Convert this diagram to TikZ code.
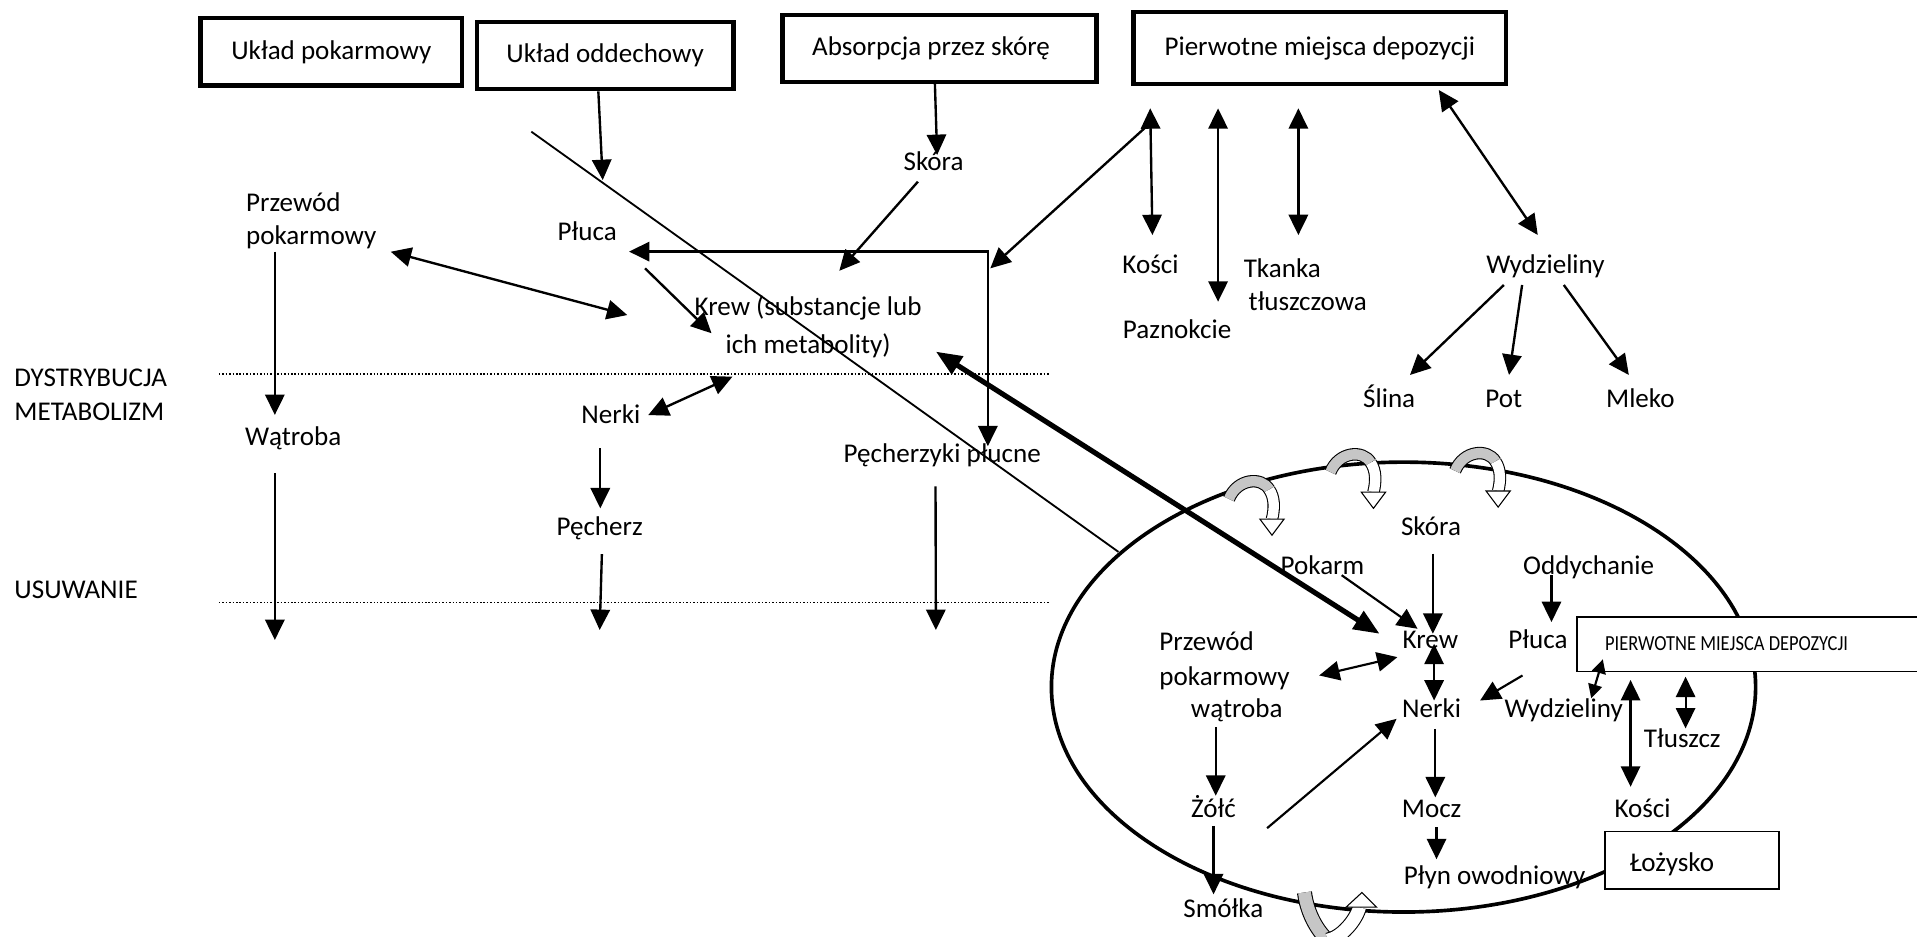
\documentclass[tikz,border=0pt]{standalone}
\usepackage{fontspec}
\setmainfont{Carlito}
\newfontfamily\waski[FakeStretch=0.86]{Carlito}
\usetikzlibrary{arrows.meta,positioning,calc}

\tikzset{
  ramka/.style={draw,line width=2pt,fill=white,inner sep=0pt,font=\fontsize{12.6}{15}\selectfont},
  cienka/.style={draw,line width=0.7pt,fill=white,inner sep=0pt},
  napis/.style={inner sep=0pt,text height=9pt,text depth=2.5pt,font=\fontsize{12.6}{15}\selectfont},
  dwa/.style={inner sep=0pt,align=left,font=\fontsize{12.6}{#1}\selectfont},
  strz/.style={line width=1.1pt,-{Triangle[length=9.5pt,width=9pt]}},
  dstrz/.style={line width=1.1pt,{Triangle[length=9.5pt,width=9pt]}-{Triangle[length=9.5pt,width=9pt]}},
  krotka/.style={line width=1pt,{Triangle[length=6.5pt,width=6.5pt]}-{Triangle[length=6.5pt,width=6.5pt]}},
  gruba/.style={line width=2.4pt,{Triangle[length=12pt,width=9.5pt]}-{Triangle[length=12pt,width=9.5pt]}},
  kropki/.style={line width=0.7pt,dash pattern=on 0.7pt off 0.9pt}
}

% curved arrow sitting on the ellipse
\newcommand{\zawrot}[2]{%
  \begin{scope}[shift={(#1,#2)},scale=1.1]
    \draw[line width=0.5pt,double=gray!45,double distance=4.8pt] (2,1) .. controls (8,-14) and (26,-16) .. (32,-6);
    \draw[line width=0.5pt,double=white,double distance=4.8pt] (32,-6) .. controls (36,0) and (36,8) .. (34,16);
    \filldraw[fill=white,line width=0.5pt] (25,16) -- (43,16) -- (34,28) -- cycle;
  \end{scope}}

\begin{document}
\begin{tikzpicture}[x=0.02cm,y=-0.02cm]
	\useasboundingbox (0,0) rectangle (1568,766);
	
	% body
	\draw[line width=1.7pt] (1148,562) ellipse [x radius=288, y radius=184];
	\foreach \x/\y in {1003/407, 1086/385, 1188/384}{
		\zawrot{\x}{\y}
	}
	\begin{scope}[shift={(1059,731)}]
		\draw[line width=0.5pt,double=gray!45,double distance=6pt] (8,-1) .. controls (10,15) and (18,30) .. (27,38);
		\draw[line width=0.5pt,double=white,double distance=6pt] (27,38) .. controls (38,36) and (50,22) .. (53,11);
		\filldraw[fill=white,line width=0.5pt] (42,11) -- (67,11) -- (55,-1) -- cycle;
	\end{scope}
	
	% top boxes
	\node[ramka,minimum width=4.28cm,minimum height=1.1cm] (uklpok) at (271,42.5) {Układ pokarmowy};
	\node[ramka,minimum width=4.2cm,minimum height=1.1cm] (ukloddech) at (495,45.5) {Układ oddechowy};
	\node[ramka,minimum width=5.14cm,minimum height=1.1cm] (absorpcja) at (768.5,39.5) {Absorpcja przez skórę\hspace*{0.28cm}};
	\node[ramka,minimum width=6.1cm,minimum height=1.18cm] (pierwotne) at (1079.5,39.5) {Pierwotne miejsca depozycji};
	
	% phases
	\node[napis,anchor=west] (dystr) at (11.5,310.8) {DYSTRYBUCJA};
	\node[napis,anchor=west] (metab) at (11.5,338.6) {METABOLIZM};
	\node[napis,anchor=west] (usuw) at (11.5,484) {USUWANIE};
	\draw[kropki] (179,305.8) -- (859,305.8);
	\draw[kropki] (179,492.7) -- (859,492.7);
	
	% upper scheme
	\node[dwa=15.1,anchor=west] (przewod) at (201,180.6) {Przewód\\pokarmowy};
	\node[napis] (watroba) at (239.8,358.5) {Wątroba};
	\node[napis] (pluca) at (480.3,190.9) {Płuca};
	\node[dwa=17.8,align=center] (krew) at (661,267.5) {Krew (substancje lub\\ich metabolity)};
	\node[napis] (skora) at (763.6,133.6) {Skóra};
	\node[napis] (nerki) at (499.6,340.3) {Nerki};
	\node[napis] (pecherz) at (490.5,432.2) {Pęcherz};
	\node[napis] (pecherzyki) at (770.7,372.2) {Pęcherzyki płucne};
	\node[napis] (kosci) at (941,218.1) {Kości};
	\node[dwa=15.5,anchor=west] (tkanka) at (1017,232.7) {Tkanka\\\hspace*{0.08cm}tłuszczowa};
	\node[napis] (paznokcie) at (962.8,271.3) {Paznokcie};
	\node[napis] (wydz) at (1264.1,218.1) {Wydzieliny};
	\node[napis] (slina) at (1136.3,327.2) {Ślina};
	\node[napis] (pot) at (1230,327.2) {Pot};
	\node[napis] (mleko) at (1341.7,327.2) {Mleko};
	
	\coordinate (rog) at (808,205.8);
	\draw[line width=0.85pt] (434.6,107.7) -- (914.8,451.4);
	\draw[strz] (ukloddech.south -| 489.4,0) -- (493,147.3);
	\draw[strz] (absorpcja.south -| 764.7,0) -- (766.5,126.8);
	\draw[strz] (750.8,148.6) -- (686.5,221.5);
	\draw[strz] (939,102.3) -- (810,219.5);
	\draw[dstrz] (514.5,205.8) -- (rog) -- (808,365);
	\draw[strz] (527.6,219.5) -- (582,272.6);
	\draw[dstrz] (319.6,205.9) -- (513.1,257.7);
	\draw[strz] (224.8,205.9) -- (224.8,339.4);
	\draw[strz] (224.8,387.2) -- (224.8,523.5);
	\draw[dstrz] (530.2,339.5) -- (599.1,308.1);
	\draw[strz] (491,366.7) -- (491,415.8);
	\draw[strz] (492.3,453.2) -- (490.5,515.3);
	\draw[strz] (765.2,397.8) -- (765.5,515.3);
	\draw[dstrz] (940.8,88.6) -- (942.6,192.3);
	\draw[dstrz] (996.3,88.6) -- (996.3,246.8);
	\draw[dstrz] (1062,88.6) -- (1062,192.3);
	\draw[dstrz] (1176.8,73.6) -- (1257.8,192.2);
	\draw[strz] (1230.1,233.1) -- (1153.3,306.7);
	\draw[strz] (1245,233.1) -- (1234.3,306.7);
	\draw[strz] (1279.1,233.1) -- (1332.3,306.7);
	
	% inside the body
	\node[cienka,minimum width=5.6cm,minimum height=0.89cm] (pmd) at (1430,527) {};
	\node[napis,font=\waski\fontsize{10}{12}\selectfont,anchor=west] (pmdtxt) at (1312.5,526.2) {PIERWOTNE MIEJSCA DEPOZYCJI};
	\node[cienka,minimum width=2.85cm,minimum height=0.94cm] (loz) at (1384,703.5) {};
	\node[napis] (loztxt) at (1367.5,707) {Łożysko};
	
	\node[napis] (iskora) at (1170.5,432.3) {Skóra};
	\node[napis] (pokarm) at (1081.7,464.3) {Pokarm};
	\node[napis] (oddych) at (1299.4,464.3) {Oddychanie};
	\node[napis] (ikrew) at (1170,525) {Krew};
	\node[napis] (ipluca) at (1258,525) {Płuca};
	\node[dwa=16.3,anchor=west] (iprzewod) at (948,540.5) {Przewód\\pokarmowy};
	\node[napis] (iwatroba) at (1011.6,581.2) {wątroba};
	\node[napis] (inerki) at (1171,581) {Nerki};
	\node[napis] (iwydz) at (1279,581) {Wydzieliny};
	\node[napis] (zolc) at (992.6,662.6) {Żółć};
	\node[napis] (smolka) at (1000.6,745.1) {Smółka};
	\node[napis] (mocz) at (1171,663) {Mocz};
	\node[napis] (plyn) at (1222.5,717.8) {Płyn owodniowy};
	\node[napis] (tluszcz) at (1376,606) {Tłuszcz};
	\node[napis] (ikosci) at (1343.5,662.8) {Kości};
	
	\draw[strz,line width=1pt] (1172,452.8) -- (1172,518.4);
	\draw[strz,line width=1pt] (1097.4,470.5) -- (1159.5,514.3);
	\draw[strz,line width=1pt] (1269,470.5) -- (1269,508.8);
	\draw[dstrz,line width=1pt] (1079,552.5) -- (1143,537.5);
	\draw[dstrz,line width=1pt] (1173,526.6) -- (1173,573);
	\draw[strz,line width=1pt] (1245.3,552.5) -- (1210.6,573);
	\draw[strz,line width=1pt] (994.4,594.9) -- (994.4,650.9);
	\draw[strz,line width=1pt] (992.6,675.5) -- (992.6,731.5);
	\draw[strz,line width=1pt] (1036.4,677.4) -- (1142.3,588);
	\draw[strz,line width=1pt] (1174,596.2) -- (1174,652.2);
	\draw[strz,line width=1pt] (1175,676.8) -- (1175,702.8);
	\draw[krotka] (1311,539.3) -- (1301.5,571.2);
	\draw[dstrz,line width=1pt] (1333.7,556.2) -- (1333.7,643.5);
	\draw[dstrz,line width=1pt] (1378.7,553.5) -- (1378.7,595.8);
	
	% blood link
	\draw[gruba] (765.5,287.6) -- (1128.4,518.4);
\end{tikzpicture}
\end{document}
